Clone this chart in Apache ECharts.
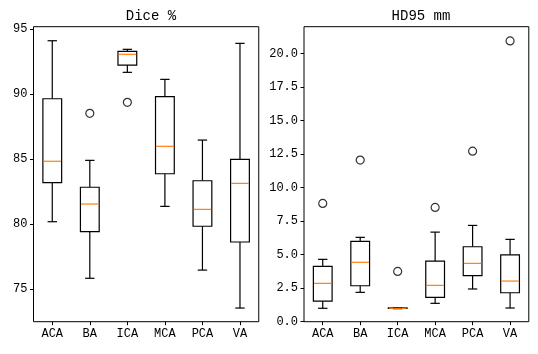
<!DOCTYPE html>
<html>
<head>
<meta charset="utf-8">
<script src="https://cdn.jsdelivr.net/npm/echarts@6/dist/echarts.min.js"></script>
<style>html,body{margin:0;padding:0;background:#fff;}#c{width:538px;height:354px;}</style>
</head>
<body>
<div id="c"></div>
<script>
const categories = ['ACA', 'BA', 'ICA', 'MCA', 'PCA', 'VA'];
// [whisker low, Q1, median, Q3, whisker high]
const diceStats = [
  [80.2, 83.2, 84.85, 89.66, 94.12],
  [75.85, 79.44, 81.56, 82.85, 84.92],
  [91.69, 92.25, 93.08, 93.3, 93.46],
  [81.38, 83.89, 86.0, 89.82, 91.15],
  [76.48, 79.85, 81.15, 83.35, 86.48],
  [73.56, 78.64, 83.15, 85.0, 93.92]
];
const diceOutliers = [['BA', 88.54], ['ICA', 89.38]];
const hdStats = [
  [1.0, 1.54, 2.86, 4.13, 4.65],
  [2.19, 2.68, 4.43, 5.99, 6.29],
  [0.97, 0.99, 1.0, 1.03, 1.05],
  [1.37, 1.82, 2.71, 4.52, 6.68],
  [2.44, 3.43, 4.35, 5.59, 7.18],
  [1.02, 2.16, 3.03, 4.99, 6.14]
];
const hdOutliers = [['ACA', 8.82], ['BA', 12.05], ['ICA', 3.75], ['MCA', 8.52], ['PCA', 12.72], ['VA', 20.94]];
const diceTicks = [75, 80, 85, 90, 95];
const hdTicks = [0, 2.5, 5, 7.5, 10, 12.5, 15, 17.5, 20];

const FONT = 'Liberation Mono';
const chart = echarts.init(document.getElementById('c'), null, {renderer: 'canvas'});

function renderBox(params, api) {
  const x = api.value(0);
  const band = api.size([1, 0])[0];
  const bw = band * 0.5, cw = bw * 0.5;
  const lo = api.coord([x, api.value(1)]);
  const q1 = api.coord([x, api.value(2)]);
  const md = api.coord([x, api.value(3)]);
  const q3 = api.coord([x, api.value(4)]);
  const hi = api.coord([x, api.value(5)]);
  const cx = lo[0];
  const ls = {stroke: '#000', lineWidth: 1.2, fill: null};
  return {
    type: 'group',
    children: [
      {type: 'line', shape: {x1: cx, y1: lo[1], x2: cx, y2: q1[1]}, style: ls},
      {type: 'line', shape: {x1: cx, y1: q3[1], x2: cx, y2: hi[1]}, style: ls},
      {type: 'line', shape: {x1: cx - cw / 2, y1: lo[1], x2: cx + cw / 2, y2: lo[1]}, style: ls},
      {type: 'line', shape: {x1: cx - cw / 2, y1: hi[1], x2: cx + cw / 2, y2: hi[1]}, style: ls},
      {type: 'rect', shape: {x: cx - bw / 2, y: q3[1], width: bw, height: q1[1] - q3[1]}, style: {stroke: '#000', lineWidth: 1.2, fill: '#fff'}},
      {type: 'line', shape: {x1: cx - bw / 2 + 0.6, y1: md[1], x2: cx + bw / 2 - 0.6, y2: md[1]}, style: {stroke: '#ff7f0e', lineWidth: 1.2}}
    ]
  };
}

function boxData(stats) {
  return stats.map((s, i) => [i].concat(s));
}

const xAxisBase = {
  type: 'category',
  data: categories,
  boundaryGap: true,
  axisLine: {show: false},
  axisTick: {show: true, alignWithLabel: true, length: 3.5, lineStyle: {color: '#000', width: 1}},
  axisLabel: {color: '#000', fontFamily: FONT, fontSize: 12, margin: 6},
  splitLine: {show: false}
};
function yAxis(min, max, ticks, fmt) {
  return {
    type: 'value', min: min, max: max,
    axisLine: {show: false},
    axisTick: {show: true, length: 3.5, customValues: ticks, lineStyle: {color: '#000', width: 1}},
    axisLabel: {color: '#000', fontFamily: FONT, fontSize: 12, margin: 6, customValues: ticks, formatter: fmt},
    splitLine: {show: false}
  };
}

chart.setOption({
  animation: false,
  backgroundColor: '#fff',
  title: [
    {text: 'Dice %', left: 146, top: 4, textAlign: 'center', textStyle: {fontFamily: FONT, fontSize: 14, fontWeight: 'normal', color: '#000'}},
    {text: 'HD95 mm', left: 416, top: 4, textAlign: 'center', textStyle: {fontFamily: FONT, fontSize: 14, fontWeight: 'normal', color: '#000'}}
  ],
  grid: [
    {left: 33.5, right: 538 - 258.75, top: 26.7, bottom: 354 - 321.7, show: true, borderColor: '#000', borderWidth: 1, backgroundColor: 'transparent'},
    {left: 304, right: 538 - 528.8, top: 26.7, bottom: 354 - 321.7, show: true, borderColor: '#000', borderWidth: 1, backgroundColor: 'transparent'}
  ],
  xAxis: [
    Object.assign({gridIndex: 0}, xAxisBase),
    Object.assign({gridIndex: 1}, xAxisBase)
  ],
  yAxis: [
    Object.assign({gridIndex: 0}, yAxis(72.51, 95.2, diceTicks, v => String(v))),
    Object.assign({gridIndex: 1}, yAxis(0, 22, hdTicks, v => v.toFixed(1)))
  ],
  series: [
    {type: 'custom', xAxisIndex: 0, yAxisIndex: 0, renderItem: renderBox, encode: {x: 0, y: [1, 2, 3, 4, 5]}, data: boxData(diceStats), clip: false},
    {type: 'custom', xAxisIndex: 1, yAxisIndex: 1, renderItem: renderBox, encode: {x: 0, y: [1, 2, 3, 4, 5]}, data: boxData(hdStats), clip: false},
    {type: 'scatter', xAxisIndex: 0, yAxisIndex: 0, symbol: 'circle', symbolSize: 8, itemStyle: {color: 'transparent', borderColor: '#000', borderWidth: 1.2}, data: diceOutliers},
    {type: 'scatter', xAxisIndex: 1, yAxisIndex: 1, symbol: 'circle', symbolSize: 8, itemStyle: {color: 'transparent', borderColor: '#000', borderWidth: 1.2}, data: hdOutliers}
  ]
});
</script>
</body>
</html>
